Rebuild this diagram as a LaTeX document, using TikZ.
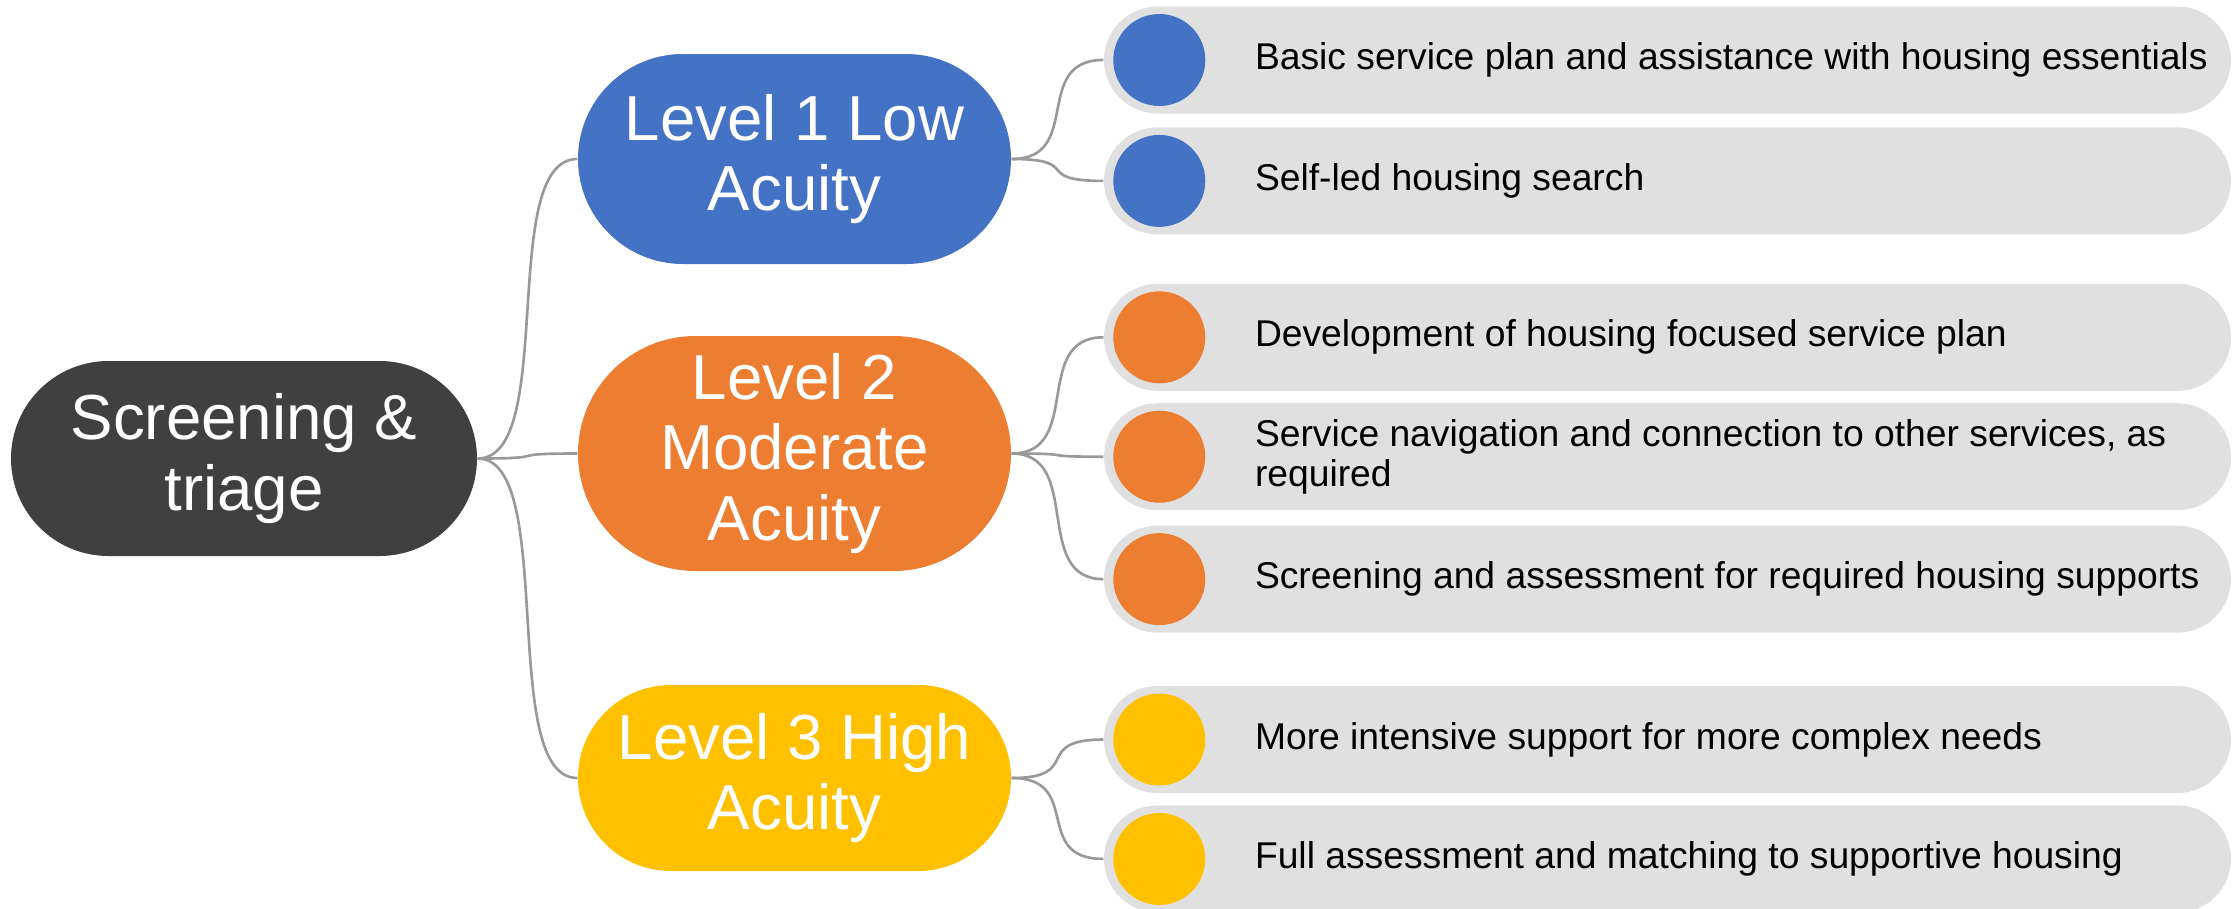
\documentclass[tikz,border=0pt]{standalone}
\usepackage{fontspec}
\setmainfont{Liberation Sans}
\usetikzlibrary{positioning}
\definecolor{rootgray}{HTML}{404040}
\definecolor{lowblue}{HTML}{4472C4}
\definecolor{modorange}{HTML}{ED7D31}
\definecolor{highyellow}{HTML}{FFC000}
\definecolor{leafgray}{HTML}{E0E0E0}
\definecolor{linkgray}{HTML}{999999}

\begin{document}
\begin{tikzpicture}[
        level/.style={rectangle, minimum width=4.33cm, minimum height=#1, rounded corners=0.5*#1, text=white, align=center, font=\fontsize{18.1}{20}\selectfont},
        leaf/.style={rectangle, rounded corners=0.535cm, fill=leafgray, minimum width=11.27cm, minimum height=1.07cm},
        dot/.style={circle, fill=#1, minimum size=0.92cm, inner sep=0pt},
        item/.style={anchor=west, align=left, inner sep=0pt, font=\fontsize{10.6}{11.5}\selectfont},
        link/.style={draw=linkgray, line width=0.75pt}
    ]
        \useasboundingbox (0,0) rectangle (22.39,-9.09);

        % Nodes
        \node[level=1.95cm, fill=rootgray, minimum width=4.66cm] (root) at (2.44,-4.585) {Screening \&\\triage};
        \node[level=2.10cm, fill=lowblue] (low) at (7.945,-1.59) {Level 1 Low\\Acuity};
        \node[level=2.35cm, fill=modorange] (moderate) at (7.945,-4.535) {Level 2\\Moderate\\Acuity};
        \node[level=1.86cm, fill=highyellow] (high) at (7.945,-7.78) {Level 3 High\\Acuity};

        \node[leaf] (lowa) at (16.675,-0.60) {};
        \node[leaf, below=0.125cm of lowa] (lowb) {};
        \node[leaf, below=0.48cm of lowb] (moda) {};
        \node[leaf, below=0.11cm of moda] (modb) {};
        \node[leaf, below=0.14cm of modb] (modc) {};
        \node[leaf, below=0.52cm of modc] (higha) {};
        \node[leaf, below=0.11cm of higha] (highb) {};

        \node[dot=lowblue] (lowadot) at ([xshift=0.56cm]lowa.west) {};
        \node[dot=lowblue] (lowbdot) at ([xshift=0.56cm]lowb.west) {};
        \node[dot=modorange] (modadot) at ([xshift=0.56cm]moda.west) {};
        \node[dot=modorange] (modbdot) at ([xshift=0.56cm]modb.west) {};
        \node[dot=modorange] (modcdot) at ([xshift=0.56cm]modc.west) {};
        \node[dot=highyellow] (highadot) at ([xshift=0.56cm]higha.west) {};
        \node[dot=highyellow] (highbdot) at ([xshift=0.56cm]highb.west) {};

        \node[item] (lowatext) at ([xshift=1.51cm]lowa.west) {Basic service plan and assistance with housing essentials};
        \node[item] (lowbtext) at ([xshift=1.51cm]lowb.west) {Self-led housing search};
        \node[item] (modatext) at ([xshift=1.51cm]moda.west) {Development of housing focused service plan};
        \node[item] (modbtext) at ([xshift=1.51cm]modb.west) {Service navigation and connection to other services, as\\required};
        \node[item] (modctext) at ([xshift=1.51cm]modc.west) {Screening and assessment for required housing supports};
        \node[item] (highatext) at ([xshift=1.51cm]higha.west) {More intensive support for more complex needs};
        \node[item] (highbtext) at ([xshift=1.51cm]highb.west) {Full assessment and matching to supportive housing};

        % Links
        \draw[link] (root.east) .. controls +(0.8,0) and +(-0.8,0) .. (low.west);
        \draw[link] (root.east) .. controls +(0.8,0) and +(-0.8,0) .. (moderate.west);
        \draw[link] (root.east) .. controls +(0.8,0) and +(-0.8,0) .. (high.west);

        \draw[link] (low.east) .. controls +(0.72,0) and +(-0.72,0) .. (lowa.west);
        \draw[link] (low.east) .. controls +(0.72,0) and +(-0.72,0) .. (lowb.west);
        \draw[link] (moderate.east) .. controls +(0.72,0) and +(-0.72,0) .. (moda.west);
        \draw[link] (moderate.east) .. controls +(0.72,0) and +(-0.72,0) .. (modb.west);
        \draw[link] (moderate.east) .. controls +(0.72,0) and +(-0.72,0) .. (modc.west);
        \draw[link] (high.east) .. controls +(0.72,0) and +(-0.72,0) .. (higha.west);
        \draw[link] (high.east) .. controls +(0.72,0) and +(-0.72,0) .. (highb.west);
    \end{tikzpicture}
\end{document}
